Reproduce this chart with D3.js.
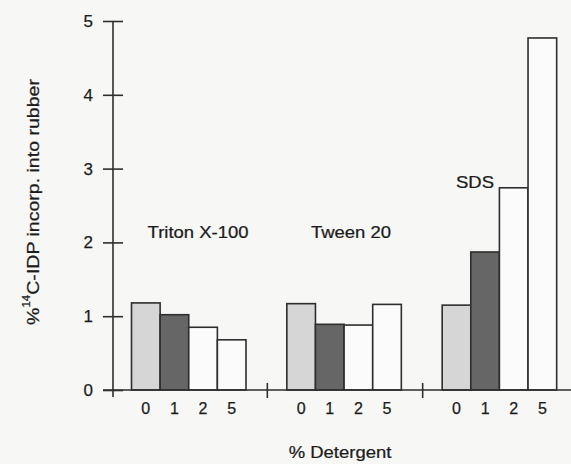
<!DOCTYPE html>
<html>
<head>
<meta charset="utf-8">
<script src="https://cdn.jsdelivr.net/npm/d3@7"></script>
<style>
  html, body { margin: 0; padding: 0; background: #f7f7f5; }
  svg { display: block; }
  text { font-family: "Liberation Sans", Arial, Helvetica, sans-serif; fill: #1c1c1c; stroke: #1c1c1c; stroke-width: 0.25px; }
</style>
</head>
<body>
<svg id="chart" width="571" height="464"></svg>
<script>
// Detergent types and concentrations tested
const groups = ["Triton X-100", "Tween 20", "SDS"];
const levels = ["0", "1", "2", "5"];

// % 14C-IDP incorporated into rubber, one array per detergent (0,1,2,5 %)
const tritonValues = [1.18, 1.02, 0.85, 0.68];
const tweenValues  = [1.17, 0.89, 0.88, 1.16];
const sdsValues    = [1.15, 1.87, 2.74, 4.77];

const yTicks = [0, 1, 2, 3, 4, 5];

const seriesByGroup = [tritonValues, tweenValues, sdsValues];

const svg = d3.select("#chart");

const y = d3.scaleLinear().domain([0, 5]).range([390, 21]);
const xGroup = d3.scaleBand().domain(groups).range([113, 579]);
const xLevel = d3.scaleBand().domain(levels).range([18.5, 133]);

const fills = { "0": "#d6d6d6", "1": "#666666", "2": "#fbfbfb", "5": "#fbfbfb" };
const stroke = "#2e2e2e";

// Bars
const g = svg.append("g");
groups.forEach((grp, gi) => {
  const vals = seriesByGroup[gi];
  const gg = g.append("g").attr("transform", `translate(${xGroup(grp)},0)`);
  gg.selectAll("rect")
    .data(levels.map((lv, i) => ({ lv, v: vals[i] })))
    .join("rect")
    .attr("x", d => xLevel(d.lv))
    .attr("width", xLevel.bandwidth())
    .attr("y", d => y(d.v))
    .attr("height", d => y(0) - y(d.v))
    .attr("fill", d => fills[d.lv])
    .attr("stroke", stroke)
    .attr("stroke-width", 1.6);

  // concentration labels under each bar
  gg.selectAll("text.lv")
    .data(levels)
    .join("text")
    .attr("class", "lv")
    .attr("x", d => xLevel(d) + xLevel.bandwidth() / 2)
    .attr("y", 414)
    .attr("text-anchor", "middle")
    .attr("font-size", 16)
    .text(d => d);
});

// X baseline
svg.append("line")
  .attr("x1", 103).attr("x2", 571)
  .attr("y1", y(0)).attr("y2", y(0))
  .attr("stroke", stroke).attr("stroke-width", 1.6);

// Group separator ticks
svg.selectAll("line.sep")
  .data(groups.slice(1))
  .join("line")
  .attr("class", "sep")
  .attr("x1", d => xGroup(d) - 1).attr("x2", d => xGroup(d) - 1)
  .attr("y1", y(0) - 7).attr("y2", y(0) + 8)
  .attr("stroke", stroke).attr("stroke-width", 1.6);

// Y axis with ticks crossing the line
const yAxis = d3.axisLeft(y).tickValues(yTicks).tickFormat(d3.format("d"))
  .tickSizeInner(10).tickSizeOuter(0).tickPadding(10);
const ya = svg.append("g").attr("transform", "translate(113,0)").call(yAxis);
ya.select(".domain").attr("stroke", stroke).attr("stroke-width", 1.6)
  .attr("d", `M0,${y(5)}V${y(0) + 7}`);
ya.selectAll(".tick line").attr("x1", -10).attr("x2", 10)
  .attr("stroke", stroke).attr("stroke-width", 1.6);
ya.selectAll(".tick text").attr("font-size", 17)
  .attr("font-family", "Liberation Sans, Arial, sans-serif")
  .attr("fill", "#1c1c1c");

// Group names
const labelPos = [
  { t: groups[0], x: 198, y: 238 },
  { t: groups[1], x: 351, y: 238 },
  { t: groups[2], x: 475, y: 188 }
];
svg.selectAll("text.grp")
  .data(labelPos)
  .join("text")
  .attr("class", "grp")
  .attr("transform", d => `translate(${d.x},${d.y}) scale(1.12,1)`)
  .attr("text-anchor", "middle")
  .attr("font-size", 16.5)
  .text(d => d.t);

// X title
svg.append("text")
  .attr("transform", "translate(340,458) scale(1.12,1)")
  .attr("text-anchor", "middle")
  .attr("font-size", 16.5)
  .text("% Detergent");

// Y title with superscript isotope number
const yt = svg.append("text")
  .attr("transform", "translate(39,202) rotate(-90) scale(1.15,1)")
  .attr("text-anchor", "middle")
  .attr("font-size", 17);
yt.append("tspan").text("%");
yt.append("tspan").attr("font-size", 10).attr("dy", -9).text("14");
yt.append("tspan").attr("dy", 9).text("C-IDP incorp. into rubber");
</script>
</body>
</html>
